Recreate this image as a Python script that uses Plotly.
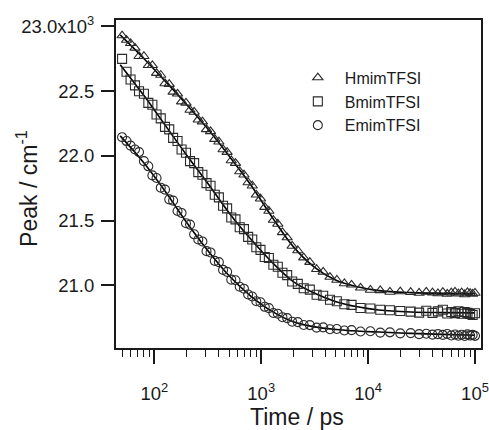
import plotly.graph_objects as go

# ---------------- data ----------------
time_ps = [50, 55, 60, 66, 72, 80, 88, 96, 105, 115, 126, 138, 150, 165, 180, 198, 216, 236,
           258, 282, 308, 336, 368, 402, 440, 480, 525, 575, 630, 690, 755, 825, 900, 985,
           1080, 1180, 1300, 1430, 1580, 1750, 1950, 2200, 2500, 2850, 3300, 3800, 4400,
           5100, 6000, 7000, 8500, 10500, 13000, 16000, 20000, 25000, 30000, 35000, 40000,
           45000, 50000, 55000, 60000, 65000, 70000, 75000, 80000, 85000, 90000, 95000, 100000]

hmim_peak = [22930, 22895, 22870, 22835, 22770, 22770, 22700, 22700, 22640, 22625, 22560, 22555,
             22495, 22480, 22420, 22410, 22355, 22340, 22280, 22265, 22205, 22190, 22130, 22110,
             22050, 22030, 21965, 21945, 21880, 21855, 21795, 21770, 21700, 21670, 21605, 21575,
             21505, 21475, 21410, 21370, 21305, 21270, 21215, 21180, 21125, 21105, 21065, 21042,
             21015, 21005, 20982, 20965, 20962, 20950, 20953, 20948, 20942, 20950, 20945, 20938,
             20948, 20935, 20945, 20950, 20936, 20944, 20930, 20947, 20940, 20935, 20942]

bmim_peak = [22750, 22650, 22590, 22545, 22500, 22480, 22410, 22395, 22320, 22290, 22225, 22205,
             22140, 22115, 22050, 22025, 21960, 21945, 21875, 21855, 21790, 21770, 21700, 21680,
             21615, 21595, 21525, 21510, 21450, 21435, 21375, 21355, 21295, 21275, 21220, 21212,
             21160, 21145, 21098, 21080, 21030, 21012, 20978, 20968, 20928, 20920, 20890, 20878,
             20855, 20850, 20826, 20822, 20812, 20808, 20803, 20798, 20790, 20805, 20788, 20800,
             20812, 20784, 20795, 20786, 20800, 20782, 20795, 20788, 20780, 20772, 20785]

emim_peak = [22145, 22115, 22080, 22050, 22030, 21960, 21920, 21850, 21830, 21755, 21740, 21665,
             21655, 21575, 21560, 21480, 21470, 21395, 21355, 21340, 21265, 21255, 21190, 21180,
             21120, 21105, 21045, 21040, 20990, 20975, 20930, 20915, 20878, 20870, 20835, 20825,
             20787, 20782, 20755, 20748, 20720, 20717, 20695, 20694, 20674, 20676, 20662, 20664,
             20652, 20655, 20644, 20646, 20636, 20638, 20630, 20632, 20624, 20627, 20620, 20624,
             20618, 20625, 20614, 20621, 20612, 20619, 20610, 20622, 20613, 20618, 20611]

fit_time = [48, 79.4, 125.9, 199.5, 316.2, 501.2, 794.3, 1259, 1995, 3162, 5012, 7943,
            12589, 25119, 50119, 100000]
hmim_fit = [22935, 22755, 22580, 22400, 22210, 22000, 21780, 21530, 21300, 21140, 21040, 20990,
            20960, 20945, 20940, 20938]
bmim_fit = [22705, 22470, 22240, 22010, 21790, 21560, 21360, 21180, 21030, 20940, 20875, 20835,
            20810, 20795, 20790, 20788]
emim_fit = [22155, 21950, 21730, 21490, 21270, 21075, 20920, 20800, 20720, 20680, 20660, 20648,
            20640, 20630, 20622, 20615]

series_names = ["HmimTFSI", "BmimTFSI", "EmimTFSI"]
series_symbols = ["triangle-up-open", "square-open", "circle-open"]

y_tickvals = [21000, 21500, 22000, 22500, 23000]
y_ticktext = ["21.0", "21.5", "22.0", "22.5", "23.0x10<sup>3</sup>"]
x_tickvals = [100, 1000, 10000, 100000]
x_ticktext = ["10<sup>2</sup>", "10<sup>3</sup>", "10<sup>4</sup>", "10<sup>5</sup>"]
x_minor = [50, 60, 70, 80, 90,
           200, 300, 400, 500, 600, 700, 800, 900,
           2000, 3000, 4000, 5000, 6000, 7000, 8000, 9000,
           20000, 30000, 40000, 50000, 60000, 70000, 80000, 90000]

x_title = "Time / ps"
y_title = "Peak / cm<sup>-1</sup>"

# ---------------- figure ----------------
FONT = "Liberation Sans, Arial, sans-serif"
INK = "#1a1a1a"
fig = go.Figure()

for fit in [hmim_fit, bmim_fit, emim_fit]:
    fig.add_trace(go.Scatter(x=fit_time, y=fit, mode="lines",
                             line=dict(color="black", width=1.6, shape="spline"),
                             showlegend=False, hoverinfo="skip"))

for name, sym, vals in zip(series_names, series_symbols, [hmim_peak, bmim_peak, emim_peak]):
    fig.add_trace(go.Scatter(x=time_ps, y=vals, mode="markers", name=name,
                             marker=dict(symbol=sym, size=9, color="#2a2a2a",
                                         line=dict(width=1.1, color="#2a2a2a"))))

fig.update_layout(
    width=489, height=430,
    margin=dict(l=116, r=8, t=20, b=82, autoexpand=False),
    paper_bgcolor="white", plot_bgcolor="white",
    font=dict(family=FONT, size=18.5, color=INK),
    legend=dict(x=0.479, y=0.876, xanchor="left", yanchor="top", bgcolor="rgba(0,0,0,0)",
                font=dict(size=16, family=FONT), tracegroupgap=0, itemwidth=44),
    xaxis=dict(type="log", range=[1.642, 5.056], tickmode="array", tickvals=x_tickvals, ticktext=x_ticktext,
               ticks="outside", ticklen=14, tickwidth=1.5, tickcolor=INK, ticklabelstandoff=14,
               ticklabeloverflow="allow",
               showline=True, linecolor=INK, linewidth=2, mirror=True, showgrid=False, zeroline=False,
               automargin=False,
               minor=dict(tickmode="array", tickvals=x_minor, ticks="outside", ticklen=7, tickwidth=1.3,
                          tickcolor=INK, showgrid=False)),
    yaxis=dict(range=[20517, 23050], tickmode="array", tickvals=y_tickvals, ticktext=y_ticktext,
               ticks="outside", ticklen=13, tickwidth=1.5, tickcolor=INK, ticklabelstandoff=3,
               showline=True, linecolor=INK, linewidth=2, mirror=True, showgrid=False, zeroline=False,
               automargin=False),
    annotations=[
        dict(text=x_title, xref="paper", yref="paper", x=0.496, y=-0.209, xanchor="center", yanchor="middle",
             showarrow=False, font=dict(size=23, family=FONT, color=INK)),
        dict(text=y_title, xref="paper", yref="paper", x=-0.244, y=0.488, xanchor="center", yanchor="middle",
             textangle=-90, showarrow=False, font=dict(size=23, family=FONT, color=INK)),
    ],
)

fig.write_html("out.html", post_script="document.body.style.margin='0';",
               config={"displayModeBar": False})
